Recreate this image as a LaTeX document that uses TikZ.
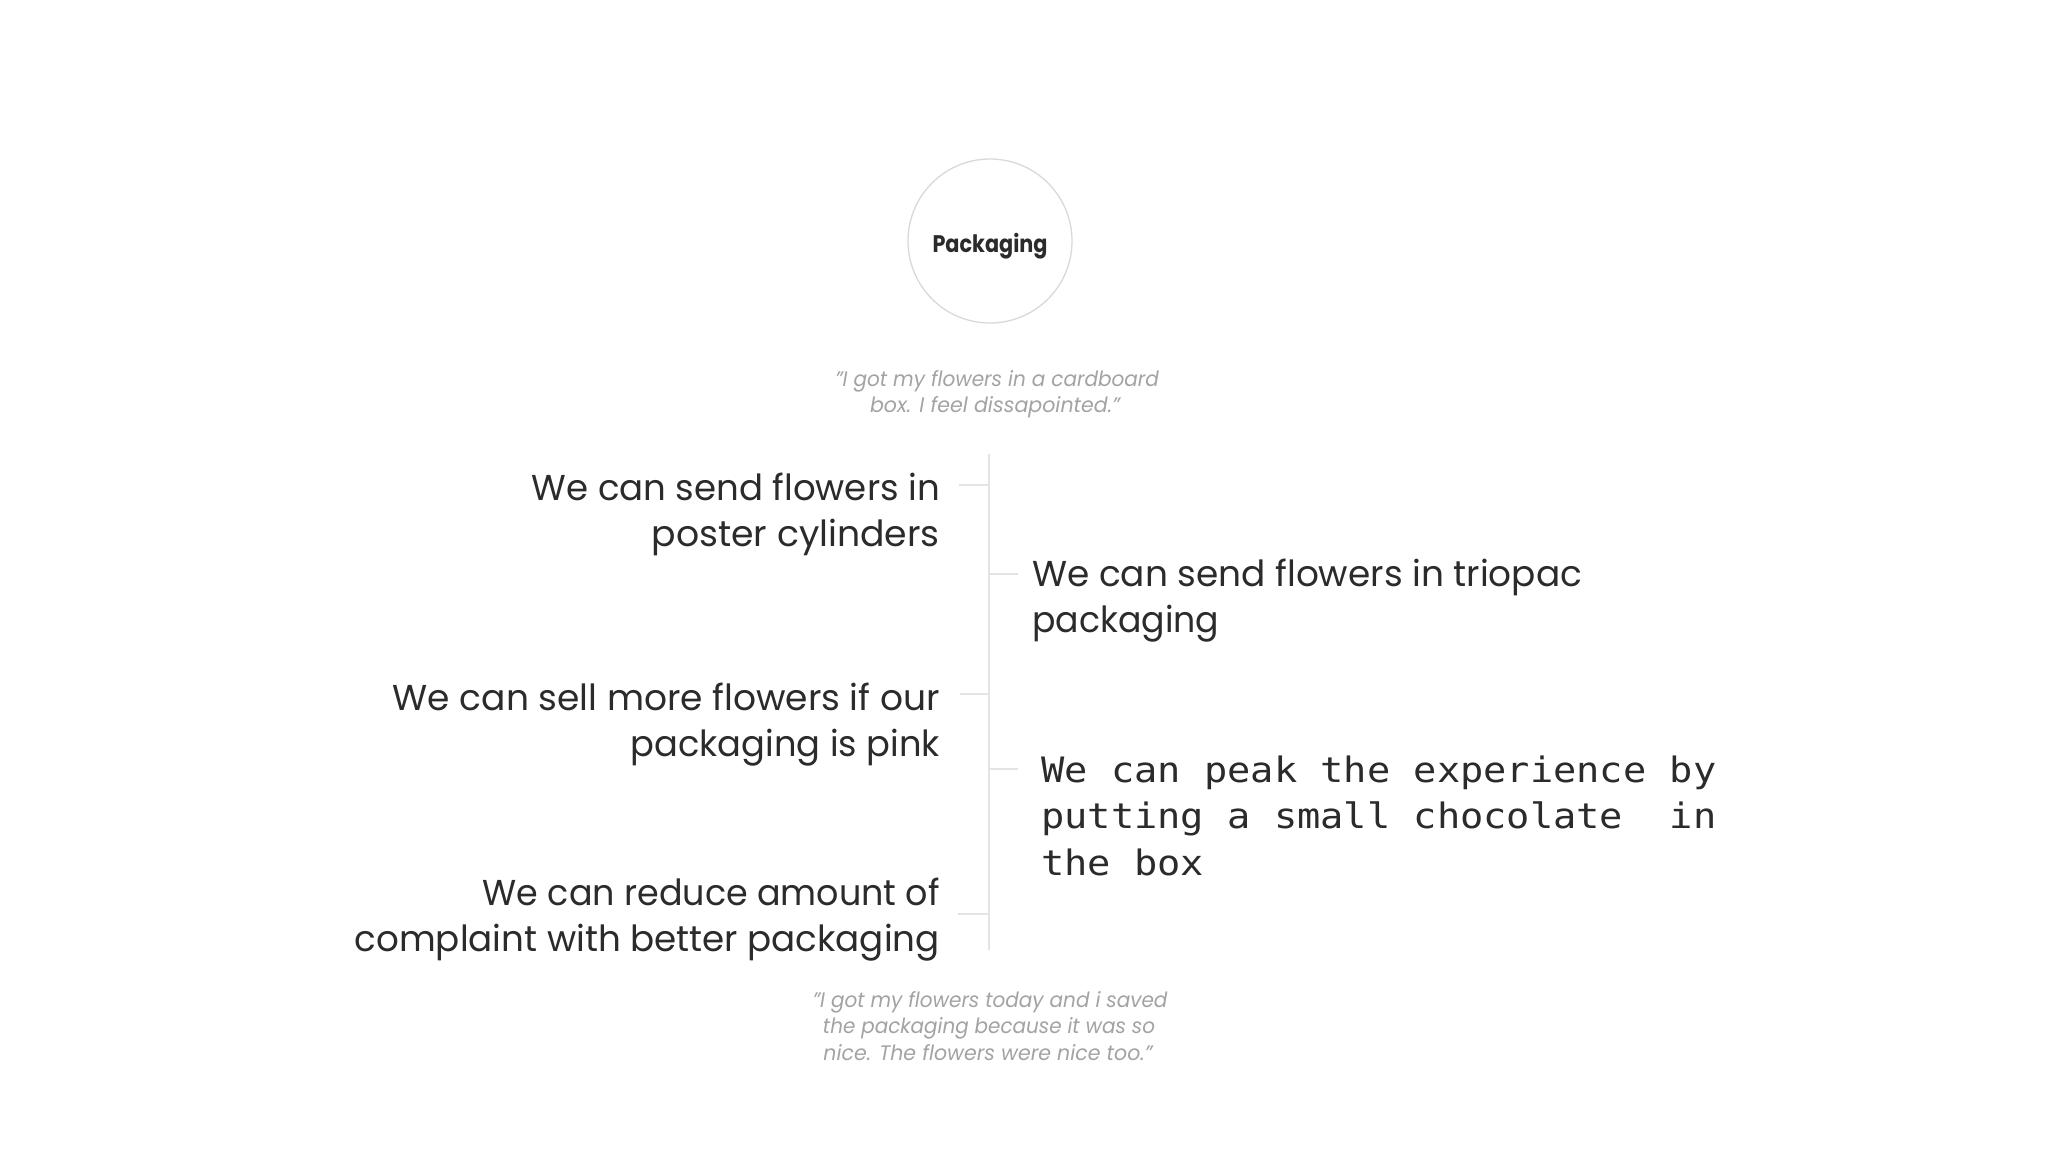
\documentclass[tikz,border=0pt]{standalone}
\usepackage{fontspec}
\usepackage{graphicx}
\setmainfont{Poppins}
\newfontfamily\monof{DejaVu Sans Mono}[FakeStretch=1.105]
\definecolor{ink}{HTML}{2B2B2B}
\definecolor{qgray}{HTML}{A3A3A3}
\definecolor{linegray}{HTML}{E4E4E4}
\definecolor{circgray}{HTML}{D9D9D9}
\newcommand\fitw[2]{\resizebox{#1pt}{\height}{#2}}
\begin{document}
\begin{tikzpicture}[x=1pt,y=-1pt,
  hub/.style={circle, draw=circgray, line width=1.3pt, minimum size=164pt, inner sep=0},
  hubtext/.style={inner sep=0, text=ink, font=\bfseries\fontsize{24}{24}\selectfont},
  idea/.style={inner sep=0, text=ink, font=\fontsize{36}{36}\selectfont},
  monoidea/.style={inner sep=0, text=ink, font=\monof\fontsize{35}{35}\selectfont},
  quote/.style={inner sep=0, text=qgray, font=\itshape\fontsize{21}{21}\selectfont},
  spine/.style={draw=linegray, line width=1.5pt}]
\useasboundingbox[fill=white] (0,0) rectangle (2048,1152);

% hub
\node[hub] (hub) at (990,241) {};
\node[hubtext, anchor=base] (hubt) at (990,252) {\fitw{115}{Packaging}};

% top quote
\node[quote, anchor=base] (q1a) at (997,386) {\fitw{324}{"I got my flowers in a cardboard}};
\node[quote, anchor=base] (q1b) at (995,412) {\fitw{250}{box. I feel dissapointed."}};

% spine and ticks
\coordinate (top) at (989,454);
\coordinate (bot) at (989,950);
\draw[spine] (top) -- (bot);
\coordinate (s1) at (989,485); \coordinate (t1) at (959,485);
\coordinate (s2) at (989,574); \coordinate (t2) at (1018,574);
\coordinate (s3) at (989,694); \coordinate (t3) at (960,694);
\coordinate (s4) at (989,769); \coordinate (t4) at (1018,769);
\coordinate (s5) at (989,914); \coordinate (t5) at (958,914);
\foreach \a/\b in {s1/t1,s2/t2,s3/t3,s4/t4,s5/t5} \draw[spine] (\a) -- (\b);

% left ideas
\node[idea, anchor=base east] (l1a) at (940,500) {\fitw{408}{We can send flowers in}};
\node[idea, anchor=base east] (l1b) at (940,546) {\fitw{288}{poster cylinders}};
\node[idea, anchor=base east] (l2a) at (940,710) {\fitw{547}{We can sell more flowers if our}};
\node[idea, anchor=base east] (l2b) at (940,756) {\fitw{309}{packaging is pink}};
\node[idea, anchor=base east] (l3a) at (940,905) {\fitw{457}{We can reduce amount of}};
\node[idea, anchor=base east] (l3b) at (940,951) {\fitw{585}{complaint with better packaging}};

% right ideas
\node[idea, anchor=base west] (r1a) at (1032,586) {\fitw{550}{We can send flowers in triopac}};
\node[idea, anchor=base west] (r1b) at (1032,632) {\fitw{187}{packaging}};
\node[monoidea, anchor=base west] (r2a) at (1041,782) {We can peak the experience by};
\node[monoidea, anchor=base west] (r2b) at (1041,828) {putting a small chocolate\ \ in};
\node[monoidea, anchor=base west] (r2c) at (1041,875) {the box};

% bottom quote
\node[quote, anchor=base] (q2a) at (990,1007) {\fitw{355}{"I got my flowers today and i saved}};
\node[quote, anchor=base] (q2b) at (989,1033) {\fitw{332}{the packaging because it was so}};
\node[quote, anchor=base] (q2c) at (988,1060) {\fitw{329}{nice. The flowers were nice too."}};
\end{tikzpicture}
\end{document}
